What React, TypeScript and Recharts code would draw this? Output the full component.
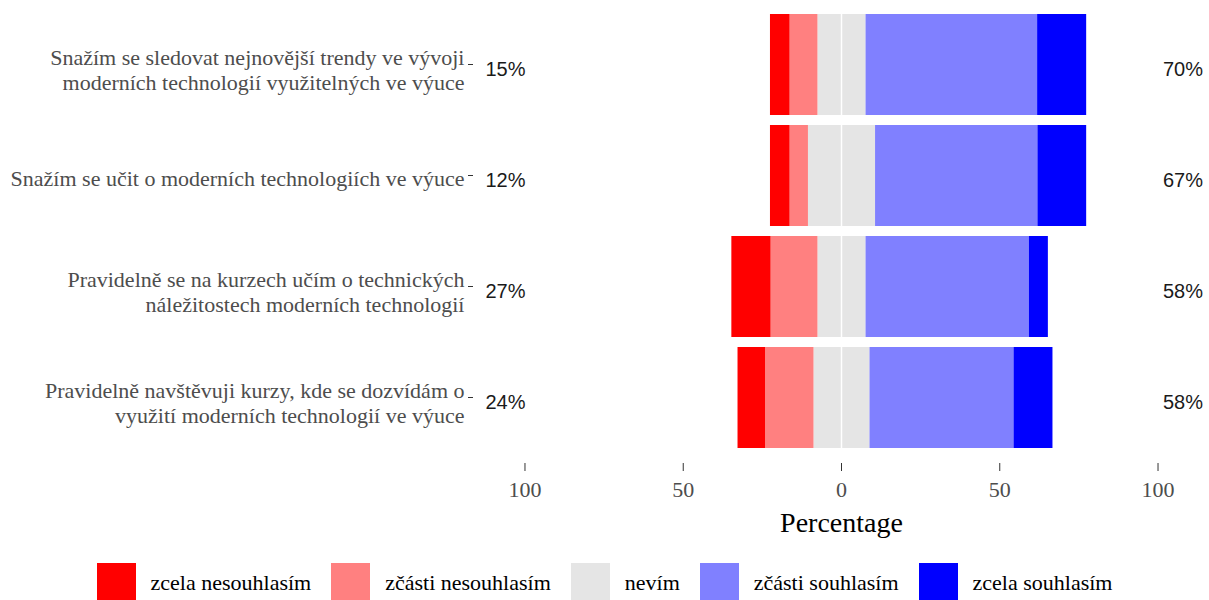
import React from "react";
import {
  BarChart,
  Bar,
  XAxis,
  YAxis,
  ReferenceLine,
} from "recharts";

const FONT_SERIF = "'Liberation Serif', 'Times New Roman', serif";
const FONT_SANS = "'Liberation Sans', Arial, sans-serif";

// categories, top to bottom ("\n" = line break in the axis label)
const items = [
  "Snažím se sledovat nejnovější trendy ve vývoji\nmoderních technologií využitelných ve výuce",
  "Snažím se učit o moderních technologiích ve výuce",
  "Pravidelně se na kurzech učím o technických\nnáležitostech moderních technologií",
  "Pravidelně navštěvuji kurzy, kde se dozvídám o\nvyužití moderních technologií ve výuce",
];

// percentages per answer, same order as items
const zcelaNesouhlasim = [6.2, 6.2, 12.4, 8.7];
const castecneNesouhlasim = [8.8, 5.8, 14.8, 15.3];
const nevim = [15.2, 21.2, 15.2, 17.7];
const castecneSouhlasim = [54.2, 51.3, 51.6, 45.5];
const zcelaSouhlasim = [15.5, 15.4, 6.0, 12.3];

const leftPct = ["15%", "12%", "27%", "24%"];
const rightPct = ["70%", "67%", "58%", "58%"];

const xTicks = [-100, -50, 0, 50, 100];

const legendLabels = [
  "zcela nesouhlasím",
  "zčásti nesouhlasím",
  "nevím",
  "zčásti souhlasím",
  "zcela souhlasím",
];
const colors = ["#ff0000", "#ff8080", "#e5e5e5", "#8080ff", "#0000ff"];

const data = items.map((item, i) => ({
  item,
  nevimNeg: -nevim[i] / 2,
  castNeg: -castecneNesouhlasim[i],
  zcelaNeg: -zcelaNesouhlasim[i],
  nevimPos: nevim[i] / 2,
  castPos: castecneSouhlasim[i],
  zcelaPos: zcelaSouhlasim[i],
}));

function CategoryTick(props: any) {
  const { x, y, payload } = props;
  const i = items.indexOf(payload.value);
  const lines = String(payload.value).split("\n");
  const n = lines.length;
  return (
    <g>
      <line x1={x - 9.5} x2={x - 4.5} y1={y} y2={y} stroke="#333333" />
      {lines.map((l, k) => (
        <text
          key={k}
          x={x - 13}
          y={y + 10 + (n - 1) * 3 + (k - (n - 1) / 2) * 24.5}
          textAnchor="end"
          fontFamily={FONT_SERIF}
          fontSize={22}
          fill="#4d4d4d"
        >
          {l}
        </text>
      ))}
      <text x={x + 8} y={y + 11} fontFamily={FONT_SANS} fontSize={20} fill="#1a1a1a">
        {leftPct[i]}
      </text>
    </g>
  );
}

function RightTick(props: any) {
  const { x, y, payload } = props;
  const i = items.indexOf(payload.value);
  return (
    <text x={x - 2.5} y={y + 11} textAnchor="end" fontFamily={FONT_SANS} fontSize={20} fill="#1a1a1a">
      {rightPct[i]}
    </text>
  );
}

function PercentTick(props: any) {
  const { x, y, payload } = props;
  return (
    <g>
      <line x1={x} x2={x} y1={y + 10} y2={y + 18} stroke="#333333" />
      <text x={x} y={y + 44} textAnchor="middle" fontFamily={FONT_SERIF} fontSize={22} fill="#4d4d4d">
        {Math.abs(payload.value)}
      </text>
    </g>
  );
}

function LikertLegend() {
  return (
    <div
      style={{
        position: "absolute",
        top: 563,
        left: 0,
        width: 1209,
        display: "flex",
        justifyContent: "center",
        fontFamily: FONT_SERIF,
        fontSize: 22,
        color: "#000",
      }}
    >
      {legendLabels.map((label, i) => (
        <div key={label} style={{ display: "flex", alignItems: "center", marginLeft: i === 0 ? 0 : 20 }}>
          <div style={{ width: 39, height: 40, background: colors[i], marginRight: 15 }} />
          <span style={{ whiteSpace: "nowrap" }}>{label}</span>
        </div>
      ))}
    </div>
  );
}

export default function App() {
  return (
    <div style={{ position: "absolute", left: 0, top: 0, width: 1209, height: 600, overflow: "hidden", background: "#fff" }}>
      <BarChart
        width={1209}
        height={600}
        data={data}
        layout="vertical"
        stackOffset="sign"
        barCategoryGap={5}
        margin={{ top: 9, right: 0, bottom: 0, left: 0 }}
      >
        <XAxis
          type="number"
          domain={[-115, 115]}
          ticks={xTicks}
          height={147}
          axisLine={false}
          tickLine={false}
          tickSize={0}
          tickMargin={0}
          tick={<PercentTick />}
          label={{
            value: "Percentage",
            position: "insideTop",
            offset: 59,
            fill: "#000",
            fontSize: 28,
            fontFamily: FONT_SERIF,
          }}
        />
        <YAxis
          type="category"
          dataKey="item"
          width={477.5}
          axisLine={false}
          tickLine={false}
          tickSize={0}
          tickMargin={0}
          interval={0}
          tick={<CategoryTick />}
        />
        <YAxis
          yAxisId="right"
          orientation="right"
          type="category"
          dataKey="item"
          width={3.5}
          axisLine={false}
          tickLine={false}
          tickSize={0}
          tickMargin={0}
          interval={0}
          tick={<RightTick />}
        />
        <Bar dataKey="nevimNeg" stackId="a" fill={colors[2]} isAnimationActive={false} />
        <Bar dataKey="castNeg" stackId="a" fill={colors[1]} isAnimationActive={false} />
        <Bar dataKey="zcelaNeg" stackId="a" fill={colors[0]} isAnimationActive={false} />
        <Bar dataKey="nevimPos" stackId="a" fill={colors[2]} isAnimationActive={false} />
        <Bar dataKey="castPos" stackId="a" fill={colors[3]} isAnimationActive={false} />
        <Bar dataKey="zcelaPos" stackId="a" fill={colors[4]} isAnimationActive={false} />
        <ReferenceLine x={0} stroke="#ffffff" strokeWidth={1.5} />
      </BarChart>
      <LikertLegend />
    </div>
  );
}
